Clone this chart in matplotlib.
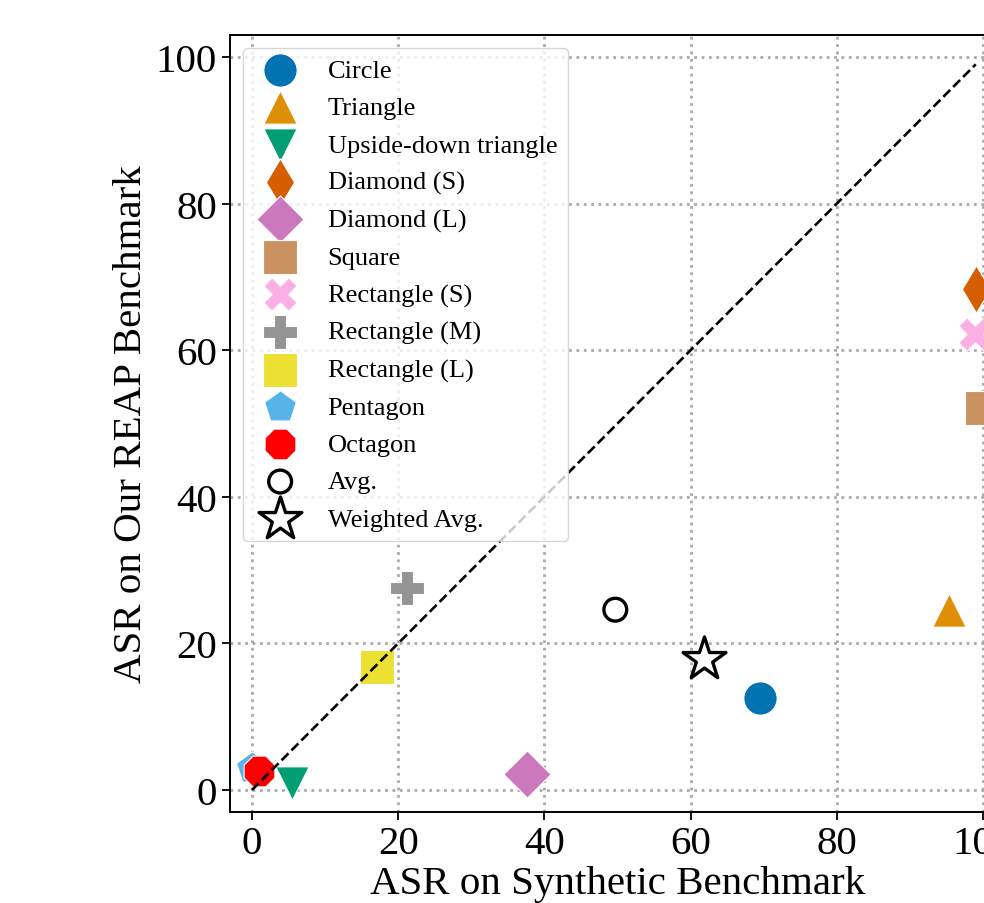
import matplotlib
matplotlib.use("Agg")
import matplotlib.pyplot as plt

plt.rcParams["font.family"] = ["Liberation Serif", "DejaVu Serif"]

# nombres de las formas y valores ASR
formas = ["Circle", "Triangle", "Upside-down triangle", "Diamond (S)", "Diamond (L)",
          "Square", "Rectangle (S)", "Rectangle (M)", "Rectangle (L)", "Pentagon", "Octagon"]
asrSintetico = [69.5, 95.3, 5.5, 99.0, 37.6, 99.8, 98.9, 21.2, 17.1, 0.0, 1.0]
asrReap = [12.6, 24.6, 1.0, 68.4, 2.2, 52.1, 62.2, 27.5, 16.8, 3.0, 2.6]
marcadores = ["o", "^", "v", "d", "D", "s", "X", "P", "s", "p", "8"]
colores = ["#0173b2", "#de8f05", "#029e73", "#d55e00", "#cc78bc", "#ca9161",
           "#fbafe4", "#949494", "#ece133", "#56b4e9", "#ff0000"]

promedio = (49.7, 24.6)
promedioPonderado = (61.8, 17.9)
diagonal = [0, 99]

fig = plt.figure(figsize=(9.84, 9.04), dpi=100)
ax = fig.add_axes([230 / 984, 91 / 904, 775 / 984, 777 / 904])

for nombre, x, y, m, c in zip(formas, asrSintetico, asrReap, marcadores, colores):
    ax.scatter(x, y, s=576, marker=m, color=c, edgecolors="white", linewidths=0.8, label=nombre)

ax.scatter(*promedio, s=270, marker="o", facecolors="none", edgecolors="black", linewidths=2.4, label="Avg.")
ax.scatter(*promedioPonderado, s=1050, marker="*", facecolors="white", edgecolors="black",
           linewidths=2.4, label="Weighted Avg.")

ax.plot(diagonal, diagonal, "k--", linewidth=1.9)

ax.set_xlim(-3, 103)
ax.set_ylim(-3, 103)
ax.set_xticks([0, 20, 40, 60, 80, 100])
ax.set_yticks([0, 20, 40, 60, 80, 100])
ax.grid(True, color="#aaaaaa", linestyle=":", linewidth=2)
ax.set_axisbelow(True)
ax.tick_params(labelsize=29.5, length=6, width=1.3)
for sp in ax.spines.values():
    sp.set_linewidth(1.4)

ax.set_xlabel("ASR on Synthetic Benchmark", fontsize=29.5, labelpad=2)
ax.set_ylabel("ASR on Our REAP Benchmark", fontsize=29.5)
ax.legend(loc="upper left", fontsize=19, labelspacing=0.52)

fig.savefig("out.png", dpi=100)
